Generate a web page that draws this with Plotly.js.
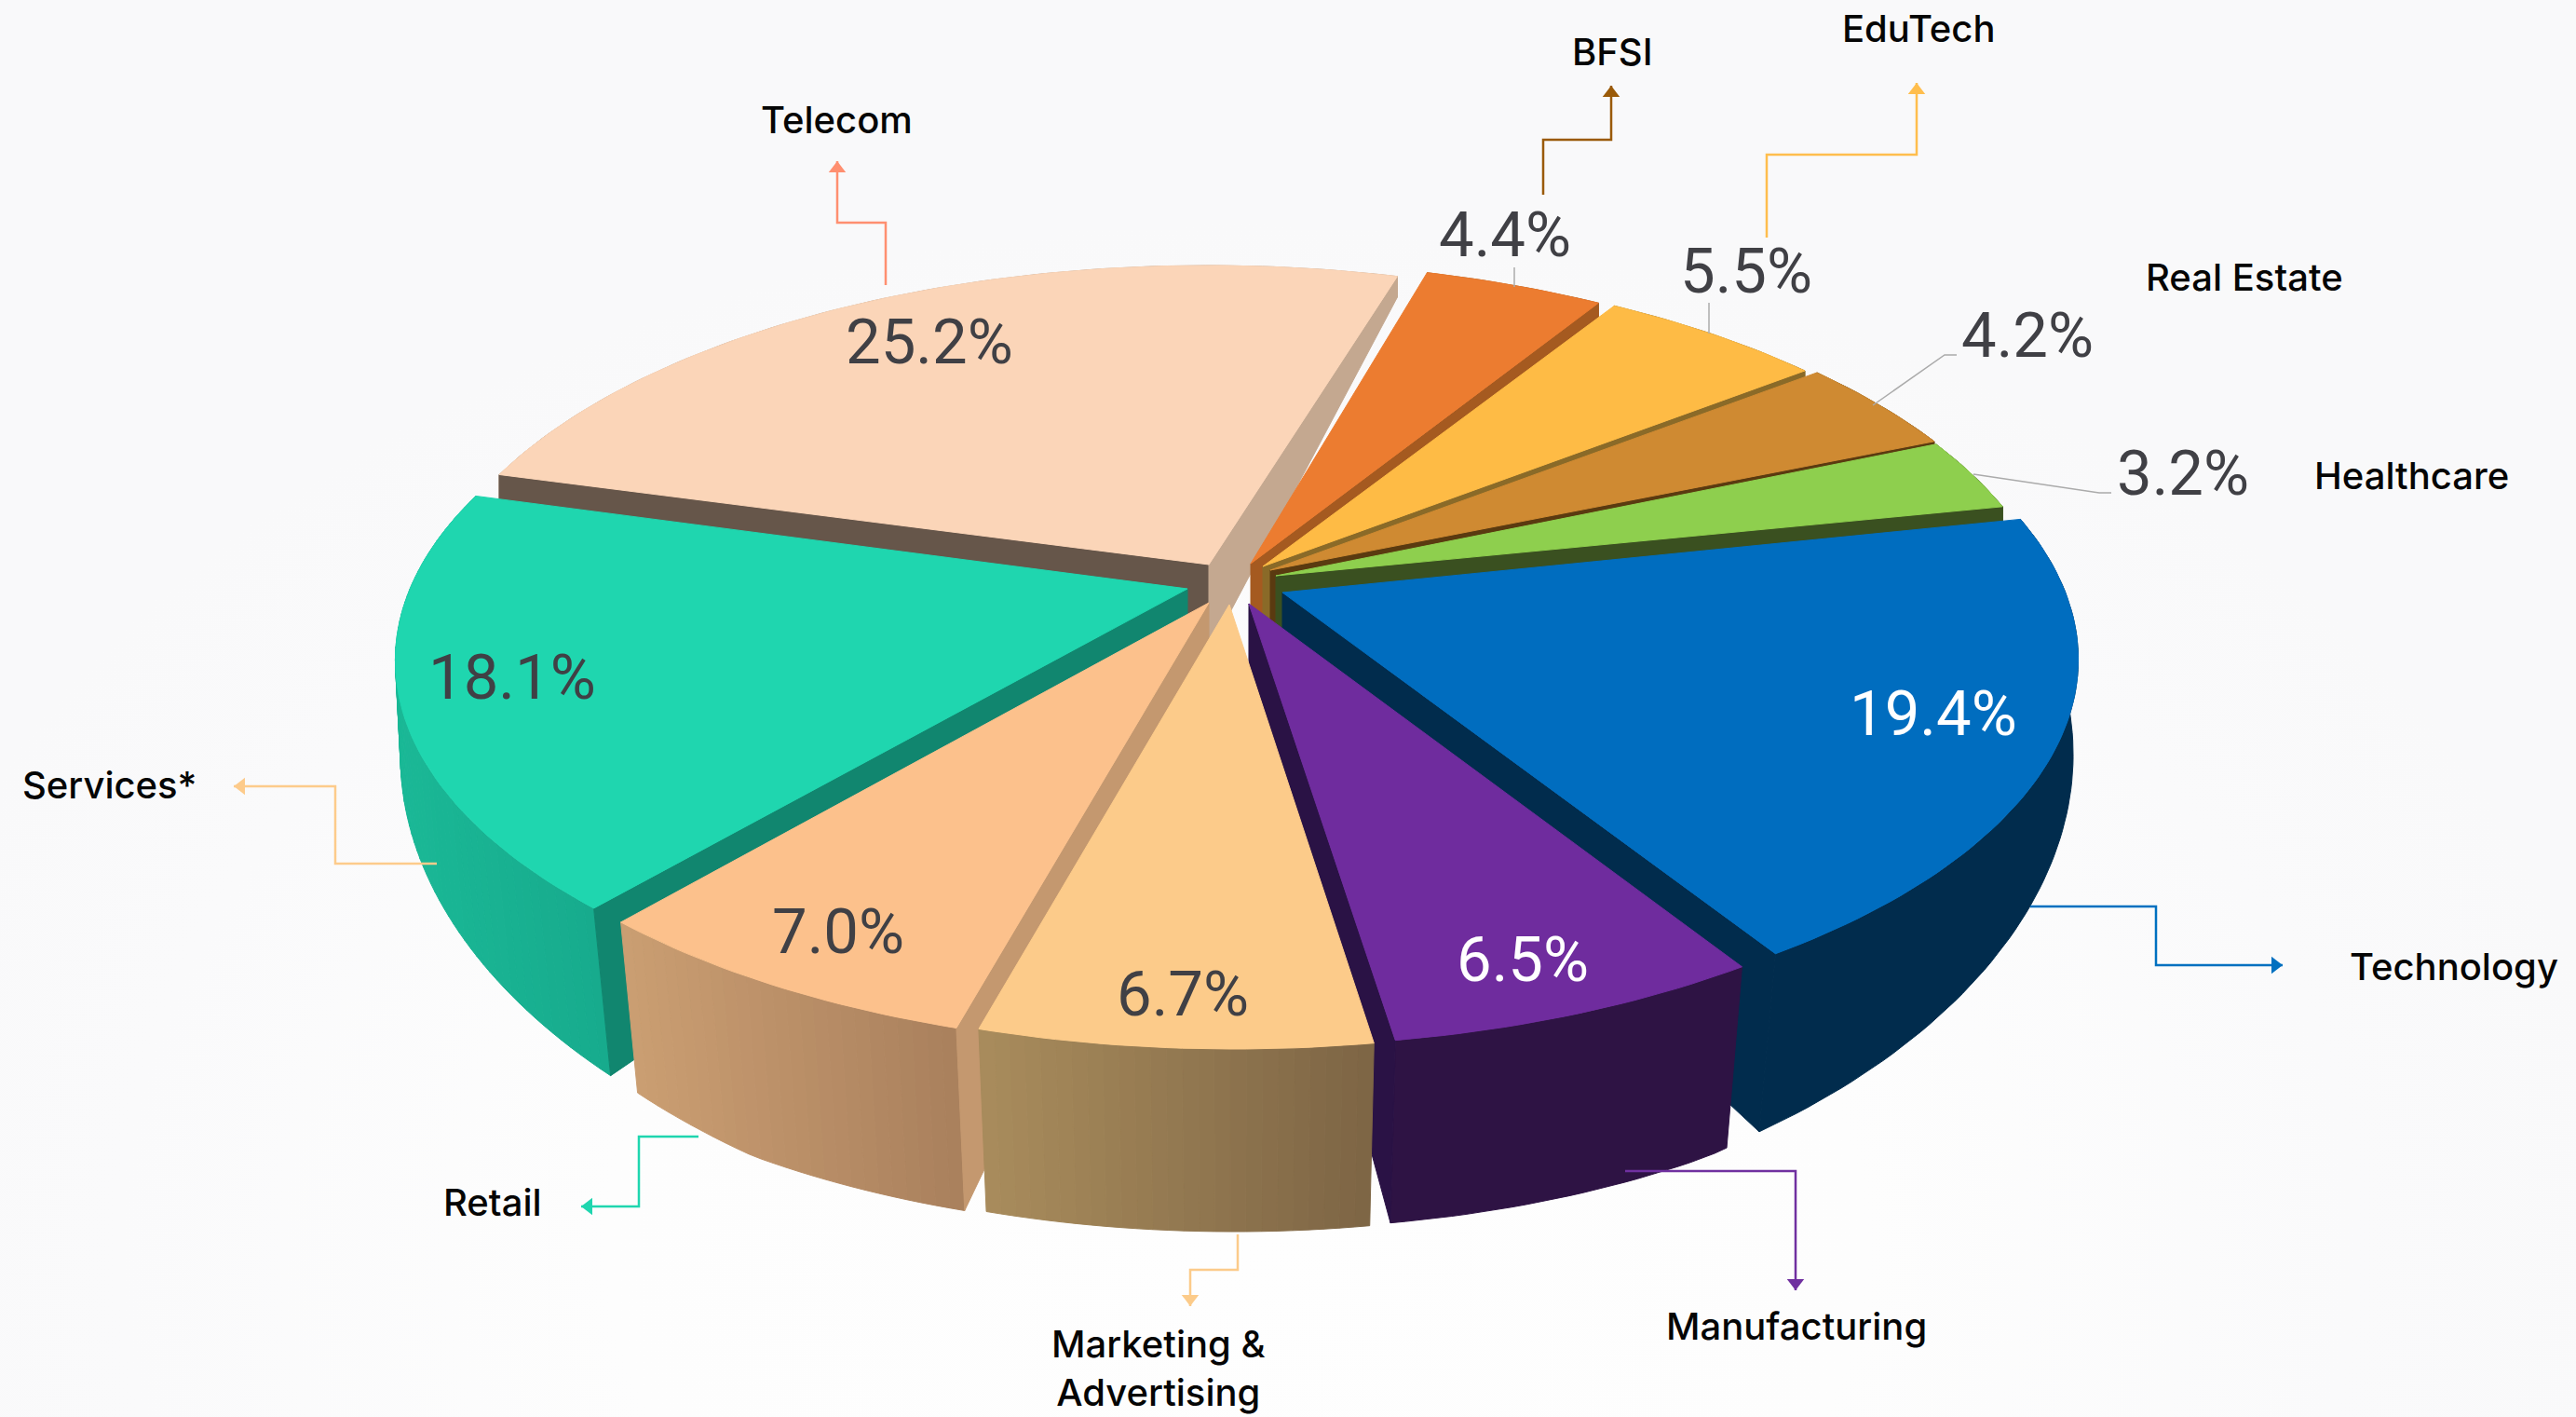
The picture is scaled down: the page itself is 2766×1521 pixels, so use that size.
<!DOCTYPE html>
<html><head><meta charset="utf-8">
<script src="https://cdn.plot.ly/plotly-3.0.1.min.js"></script>
<style>html,body{margin:0;padding:0}
body{background:radial-gradient(ellipse 1500px 1100px at 48% 88%, #FEFEFE 0%, #FDFDFD 45%, #FAFAFB 80%, #F9F9FA 100%)}
#c{width:2766px;height:1521px}</style>
</head><body><div id="c"></div>
<script>
// clockwise from the Technology slice
const categories = ["Technology","Manufacturing","Marketing & Advertising","Retail","Services*","Telecom","BFSI","EduTech","Real Estate","Healthcare"];
const shares = [19.4,6.5,6.7,7.0,18.1,25.2,4.4,5.5,4.2,3.2];
const pctLabels = ["19.4%","6.5%","6.7%","7.0%","18.1%","25.2%","4.4%","5.5%","4.2%","3.2%"];
const topColors = ["#006DBF","#6F2C9E","#FCCB8A","#FCC18C","#1FD6AF","#FBD5B8","#EC7C30","#FEBB45","#CF8A32","#8ECF4E"];
const wallLeft  = ["#012C4D","#2E1344","#A98C5C","#CB9E72","#1AB896","#C4A890","#A55A20","#8A6A28","#5A3A10","#3A5020"];
const wallRight = ["#012C4D","#2E1344","#7D6545","#A9805D","#17AB8D","#C4A890","#A55A20","#8A6A28","#5A3A10","#3A5020"];
// only the cut faces that can be seen get a colour
const startEdge = [null,null,null,"#C4986F","#11866F","#66564A",null,null,null,null];
const endEdge   = ["#012C4D","#2A1245",null,null,null,"#C4A890","#A55A20","#8A6A28","#5A3A10","#3A5020"];
const pctColors = ["#FFFFFF","#FFFFFF","#404045","#404045","#404045","#404045","#404045","#404045","#404045","#404045"];
// explode: where each slice's point sits, and how far its rim is moved
const apexX = [1377,1341,1320,1298,1275,1298,1343,1356,1364,1370];
const apexY = [636,648,649,647,632,606,605,608,612,618];
const rimDX = [7,7,5,3,-3,-1,-14,-10,-5,-9];
const rimDY = [-3,-1,1,2,2,5,2,2,0,-3];
const pctX = [2076,1635,1270,900,550,998,1616,1875,2177,2344];
const pctY = [766,1030,1067,1000,727,367,252,291,360,508];
const nameX = [2635,1929,1244,529,117,898,1731,2060,2410,2589];
const nameY = [1037,1423,1468,1290,842,128,55,30,297,510];
const leaderColors = ["#0070C0","#7030A0","#FCCB8A","#1FD6AF","#FDCB8B","#FF8F70","#9A5A08","#FFBE4D"];
const leaderXs = [[2180,2315,2315,2451],[1745,1928,1928],[1329,1329,1278,1278],[750,686,686,624],[469,360,360,251],[951,951,899,899],[1657,1657,1730,1730],[1897,1897,2058,2058]];
const leaderYs = [[973,973,1036,1036],[1257,1257,1385],[1325,1363,1363,1402],[1220,1220,1295,1295],[927,927,844,844],[306,239,239,173],[209,150,150,92],[255,166,166,89]];
const tickXs = [[1626,1626],[1835,1835],[2011,2088,2101],[2119,2254,2267]];
const tickYs = [[287,308],[325,358],[435,381,381],[509,529,529]];
const drawOrder = [5,6,7,8,9,0,4,1,3,2];

const START_DEG = -11.7, R = 832.6, RS = 387, P = 0.187, VPX = 1323;
function onTop(i, deg){
  const a = deg*Math.PI/180, u = Math.cos(a), v = Math.sin(a), w = 1/(1-P*v);
  return [apexX[i]+rimDX[i]+R*u*w, apexY[i]+rimDY[i]+RS*v*w];
}
function down(p){
  const d = Math.min(196, Math.max(10, 22+0.232*(p[1]-295)));
  const shrink = Math.min(0.03, Math.max(0, 0.026*(p[1]-620)/350));
  return [VPX+(p[0]-VPX)*(1-shrink), p[1]+d];
}
function hex(c){return [1,3,5].map(k=>parseInt(c.substr(k,2),16));}
function mix(a,b,t){const A=hex(a),B=hex(b);return `rgb(${A.map((x,k)=>Math.round(x+(B[k]-x)*t)).join(",")})`;}
function poly(pts,color){
  return {type:"scatter",mode:"lines",x:pts.map(p=>p[0]).concat(pts[0][0]),y:pts.map(p=>p[1]).concat(pts[0][1]),
    fill:"toself",fillcolor:color,line:{color:color,width:1},hoverinfo:"skip",showlegend:false};
}
const starts=[]; let acc=START_DEG;
shares.forEach(s=>{starts.push(acc);acc+=s*3.6;});

const traces=[];
drawOrder.forEach(i=>{
  const a0=starts[i], a1=a0+shares[i]*3.6, apex=[apexX[i],apexY[i]];
  const arc=[]; const n=Math.ceil(a1-a0);
  for(let k=0;k<=n;k++) arc.push(onTop(i,a0+(a1-a0)*k/n));
  const first=arc[0], last=arc[n];
  const xs=arc.map(p=>p[0]), xmin=Math.min(...xs), xmax=Math.max(...xs);
  if(wallLeft[i]===wallRight[i]){
    traces.push(poly(arc.concat(arc.slice().reverse().map(down)),wallLeft[i]));
  }else{
    for(let k=0;k<n;k++){
      const t=((arc[k][0]+arc[k+1][0])/2-xmin)/(xmax-xmin);
      traces.push(poly([arc[k],arc[k+1],down(arc[k+1]),down(arc[k])],mix(wallLeft[i],wallRight[i],t)));
    }
  }
  if(startEdge[i]) traces.push(poly([apex,first,down(first),down(apex)],startEdge[i]));
  if(endEdge[i]) traces.push(poly([apex,last,down(last),down(apex)],endEdge[i]));
  traces.push(poly([apex].concat(arc),topColors[i]));
});
tickXs.forEach((xs,j)=>traces.push({type:"scatter",mode:"lines",x:xs,y:tickYs[j],line:{color:"#ABABAB",width:1.5},hoverinfo:"skip",showlegend:false}));
leaderXs.forEach((xs,j)=>{
  const ys=leaderYs[j], m=xs.length-1;
  const dx=Math.sign(xs[m]-xs[m-1]), dy=Math.sign(ys[m]-ys[m-1]);
  const symbol=dx>0?"triangle-right":dx<0?"triangle-left":dy>0?"triangle-down":"triangle-up";
  traces.push({type:"scatter",mode:"lines",x:xs,y:ys,line:{color:leaderColors[j],width:2.5},hoverinfo:"skip",showlegend:false});
  traces.push({type:"scatter",mode:"markers",x:[xs[m]-dx*8],y:[ys[m]-dy*8],
    marker:{symbol:symbol,size:16,color:leaderColors[j],line:{width:0}},hoverinfo:"skip",showlegend:false});
});

const annotations=[];
categories.forEach((c,i)=>{
  annotations.push({x:nameX[i],y:nameY[i],xref:"x",yref:"y",text:c.replace(" & "," &<br>"),showarrow:false,
    font:{family:"Inter, sans-serif",size:40,color:"#050505",weight:500},xanchor:"center",yanchor:"middle",align:"center"});
  annotations.push({x:pctX[i],y:pctY[i],xref:"x",yref:"y",text:pctLabels[i],showarrow:false,
    font:{family:"Roboto, sans-serif",size:67,color:pctColors[i],weight:400},xanchor:"center",yanchor:"middle"});
});

const layout={width:2766,height:1521,margin:{l:0,r:0,t:0,b:0},paper_bgcolor:"rgba(0,0,0,0)",plot_bgcolor:"rgba(0,0,0,0)",
  xaxis:{range:[0,2766],visible:false,fixedrange:true},
  yaxis:{range:[1521,0],visible:false,fixedrange:true},
  showlegend:false,annotations:annotations};
Plotly.newPlot("c",traces,layout,{displayModeBar:false,staticPlot:true});
</script></body></html>
